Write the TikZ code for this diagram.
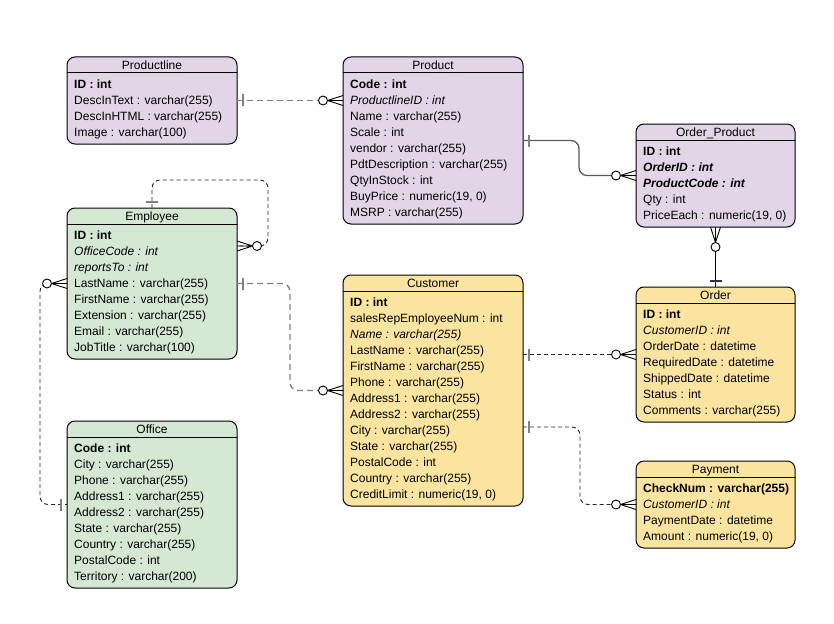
\documentclass[tikz,border=0pt]{standalone}
\usepackage{fontspec}
\setmainfont{Liberation Sans}
\usetikzlibrary{calc}
\definecolor{purp}{HTML}{E1D5E7}
\definecolor{grn}{HTML}{D5E8D4}
\definecolor{yel}{HTML}{FBE4A0}
\definecolor{lgray}{HTML}{808080}
\tikzset{
 tbox/.style={draw=black, line width=1pt, rounded corners=8pt, inner sep=0pt, outer sep=0pt},
 hline/.style={draw=black, line width=1pt},
 hdr/.style={font=\fontsize{12}{14}\selectfont, inner sep=0pt, anchor=base},
 rowtxt/.style={font=\fontsize{12}{14}\selectfont, inner sep=0pt, anchor=base west},
 dgray/.style={draw=lgray, line width=1.4pt, dash pattern=on 6pt off 4pt},
 dblack/.style={draw=black!85, line width=0.9pt, dash pattern=on 4pt off 3pt},
 sgray/.style={draw=black!65, line width=1.3pt},
 sblack/.style={draw=black, line width=1pt},
 tickmark/.style={draw=lgray, line width=1.4pt},
 tickblack/.style={draw=black!80, line width=1.2pt},
 zmany/.pic={\draw[black, line width=0.9pt, solid] (-15.5,0) -- (0,-5) (-15.5,0) -- (0,5) (-15.5,0) -- (0,0);
   \draw[black, line width=0.9pt, solid, fill=white] (-20,0) circle (4.5pt);},
}
\newcommand{\ertable}[8]{%
  \node[tbox, fill=#6, minimum width=#4pt, minimum height={23pt+16pt*#5}, anchor=north west] (#1) at (#2,#3) {};
  \draw[hline] ($(#1.north west)+(0,16)$) -- ($(#1.north east)+(0,16)$);
  \node[hdr] (#1-title) at ($(#1.north)+(0,12.5)$) {#7};
  \foreach \rowtext [count=\ri] in {#8} {
    \node[rowtxt] (#1-\ri) at ($(#1.north west)+(7,{15.5+16*\ri})$) {\rowtext};
  }
}
\begin{document}
\begin{tikzpicture}[x=1pt,y=-1pt]
\useasboundingbox (0,0) rectangle (834,623);
\fill[white] (0,0) rectangle (834,623);

\ertable{productline}{67}{57}{170}{4}{purp}{Productline}{\textbf{ID : int}, DescInText : varchar(255), DescInHTML : varchar(255), Image : varchar(100)}
\ertable{product}{343}{57}{180}{9}{purp}{Product}{\textbf{Code : int}, \textit{ProductlineID : int}, Name : varchar(255), Scale : int, vendor : varchar(255), PdtDescription : varchar(255), QtyInStock : int, {BuyPrice : numeric(19, 0)}, MSRP : varchar(255)}
\ertable{orderproduct}{636}{124}{159}{5}{purp}{Order\_Product}{\textbf{ID : int}, \textbf{\textit{OrderID : int}}, \textbf{\textit{ProductCode : int}}, Qty : int, {PriceEach : numeric(19, 0)}}
\ertable{employee}{67}{208}{170}{8}{grn}{Employee}{\textbf{ID : int}, \textit{OfficeCode : int}, \textit{reportsTo : int}, LastName : varchar(255), FirstName : varchar(255), Extension : varchar(255), Email : varchar(255), JobTitle : varchar(100)}
\ertable{office}{67}{421}{170}{9}{grn}{Office}{\textbf{Code : int}, City : varchar(255), Phone : varchar(255), Address1 : varchar(255), Address2 : varchar(255), State : varchar(255), Country : varchar(255), PostalCode : int, Territory : varchar(200)}
\ertable{customer}{343}{275}{180}{13}{yel}{Customer}{\textbf{ID : int}, salesRepEmployeeNum : int, \textit{Name : varchar(255)}, LastName : varchar(255), FirstName : varchar(255), Phone : varchar(255), Address1 : varchar(255), Address2 : varchar(255), City : varchar(255), State : varchar(255), PostalCode : int, Country : varchar(255), {CreditLimit : numeric(19, 0)}}
\ertable{order}{636}{287}{159}{7}{yel}{Order}{\textbf{ID : int}, \textit{CustomerID : int}, OrderDate : datetime, RequiredDate : datetime, ShippedDate : datetime, Status : int, Comments : varchar(255)}
\ertable{payment}{636}{461}{159}{4}{yel}{Payment}{\textbf{CheckNum : varchar(255)}, \textit{CustomerID : int}, PaymentDate : datetime, {Amount : numeric(19, 0)}}

% Productline - Product
\draw[dgray] (productline.east) -- (productline.east -| product.west);
\draw[tickmark] ($(productline.east)+(6,-6)$) -- ++(0,12);
\pic at (productline.east -| product.west) {zmany};

% Product - Order_Product
\draw[sgray, rounded corners=8pt] (product.east) -- ($(product.east)+(56,0)$) |- (orderproduct.west);
\draw[tickmark] ($(product.east)+(6,-6)$) -- ++(0,12);
\pic at (orderproduct.west) {zmany};

% Order_Product - Order
\draw[sblack] (orderproduct.south) -- (order.north);
\draw[tickblack] ($(order.north)+(-6,-6)$) -- ++(12,0);
\pic[rotate=90] at (orderproduct.south) {zmany};

% Employee self loop
\draw[dblack, rounded corners=8pt] (employee.north) |- ($(employee.north east)+(31,-28)$) |- ($(employee.north east)+(0,38)$);
\draw[tickmark] ($(employee.north)+(-6,-6)$) -- ++(12,0);
\pic[rotate=180] at ($(employee.north east)+(0,38)$) {zmany};

% Employee - Office
\draw[dblack, rounded corners=8pt] (employee.west) -- ($(employee.west)+(-27,0)$) |- (office.west);
\draw[tickmark] ($(office.west)+(-6,-6)$) -- ++(0,12);
\pic at (employee.west) {zmany};

% Employee - Customer
\draw[dgray, rounded corners=8pt] (employee.east) -- ($(employee.east)+(53,0)$) |- (customer.west);
\draw[tickmark] ($(employee.east)+(6,-6)$) -- ++(0,12);
\pic at (customer.west) {zmany};

% Customer - Order
\draw[dblack] (customer.east |- order.west) -- (order.west);
\draw[tickmark] ($(customer.east |- order.west)+(6,-6)$) -- ++(0,12);
\pic at (order.west) {zmany};

% Customer - Payment
\draw[dblack, rounded corners=8pt] ($(customer.east)+(0,36.5)$) -- ($(customer.east)+(57,36.5)$) |- (payment.west);
\draw[tickmark] ($(customer.east)+(6,30.5)$) -- ++(0,12);
\pic at (payment.west) {zmany};
\end{tikzpicture}
\end{document}
